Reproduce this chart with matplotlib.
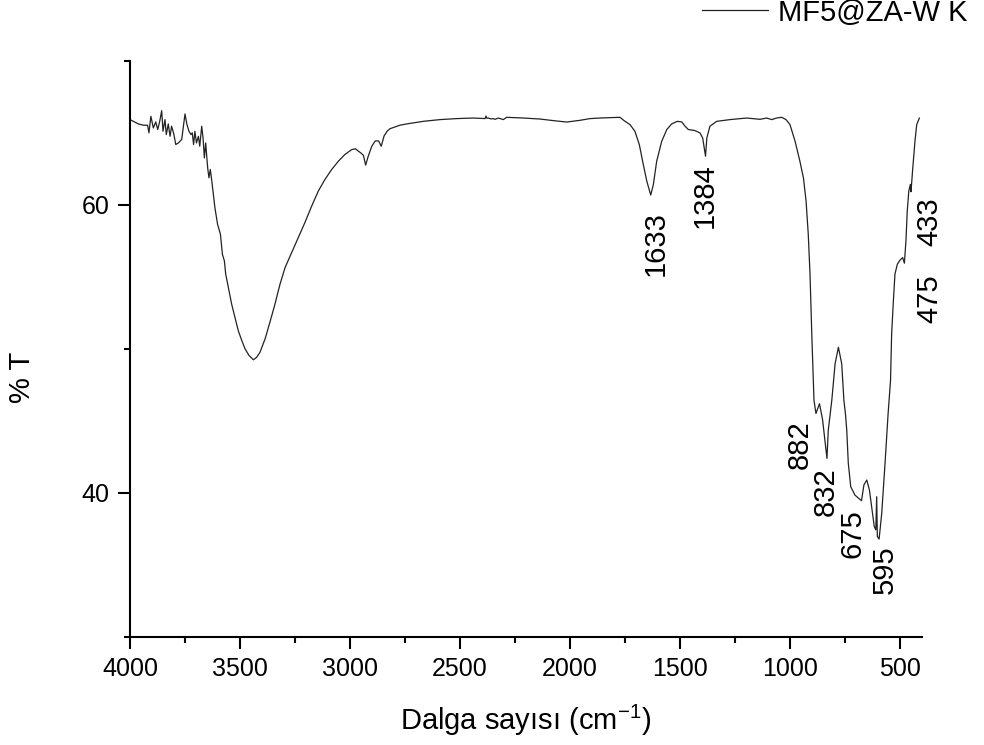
import matplotlib
matplotlib.use("Agg")
import matplotlib.pyplot as plt
from matplotlib.ticker import MultipleLocator, FixedLocator

plt.rcParams['font.family'] = ['Liberation Sans', 'DejaVu Sans']
plt.rcParams['mathtext.fontset'] = 'custom'
plt.rcParams['mathtext.rm'] = 'Liberation Sans'
plt.rcParams['mathtext.it'] = 'Liberation Sans:italic'
plt.rcParams['mathtext.bf'] = 'Liberation Sans:bold'

# ---- data ----
wavenumber = [
    4000, 3962, 3939, 3920, 3914, 3905, 3894, 3883, 3874, 3865, 3856, 3850, 3841, 3835,
    3826, 3818, 3811, 3801, 3792, 3780, 3765, 3756, 3750, 3741, 3732, 3723, 3717, 3711,
    3705, 3698, 3689, 3683, 3674, 3668, 3662, 3656, 3647, 3641, 3635, 3629, 3623, 3614,
    3602, 3589, 3580, 3571, 3565, 3553, 3538, 3523, 3508, 3492, 3477, 3459, 3439, 3424,
    3409, 3386, 3364, 3341, 3318, 3295, 3265, 3235, 3205, 3174, 3144, 3114, 3083, 3053,
    3023, 2992, 2975, 2962, 2951, 2939, 2929, 2917, 2901, 2885, 2870, 2858, 2845, 2830,
    2818, 2773, 2742, 2667, 2591, 2515, 2439, 2386, 2382, 2378, 2371, 2360, 2349, 2340,
    2326, 2303, 2288, 2212, 2136, 2076, 2015, 1955, 1909, 1864, 1773, 1750, 1727, 1705,
    1685, 1667, 1651, 1633, 1621, 1606, 1583, 1560, 1538, 1512, 1492, 1477, 1462, 1432,
    1409, 1397, 1384, 1378, 1364, 1333, 1273, 1197, 1136, 1106, 1083, 1061, 1038, 1018,
    1000, 977, 955, 939, 927, 917, 909, 901, 891, 882, 866, 852, 832, 826, 810, 795, 780,
    765, 755, 748, 742, 735, 724, 705, 688, 675, 664, 651, 639, 629, 617, 610, 606, 603,
    595, 583, 568, 554, 543, 538, 530, 523, 512, 500, 488, 480, 473, 467, 460, 453, 450,
    443, 432, 424, 412,
]
transmittance = [
    65.93, 65.63, 65.54, 65.54, 65.01, 66.16, 65.35, 65.77, 65.24, 65.81, 66.55, 65.12, 65.93, 64.89,
    65.63, 64.77, 65.47, 64.94, 64.20, 64.31, 64.55, 65.58, 66.32, 65.58, 65.12, 64.89, 65.01, 64.20,
    65.12, 64.31, 64.77, 64.08, 65.47, 64.66, 63.27, 64.31, 62.58, 61.89, 62.47, 61.77, 60.97, 59.81,
    58.66, 57.97, 56.58, 56.12, 55.20, 54.28, 53.12, 52.20, 51.28, 50.59, 50.01, 49.55, 49.25, 49.43,
    49.78, 50.70, 51.86, 53.12, 54.51, 55.66, 56.70, 57.74, 58.78, 59.93, 60.97, 61.77, 62.47, 63.04,
    63.51, 63.85, 63.90, 63.74, 63.62, 63.45, 62.77, 63.39, 64.08, 64.45, 64.45, 64.08, 64.80, 65.15,
    65.30, 65.54, 65.63, 65.81, 65.93, 66.00, 66.04, 66.00, 66.18, 66.02, 66.04, 65.98, 66.00, 65.95,
    66.04, 65.93, 66.09, 66.04, 65.97, 65.86, 65.76, 65.88, 66.00, 66.04, 66.09, 65.81, 65.58, 65.12,
    64.20, 62.82, 61.66, 60.69, 61.43, 63.04, 64.43, 65.24, 65.63, 65.81, 65.77, 65.47, 65.24, 65.17,
    65.00, 64.66, 63.39, 64.66, 65.47, 65.81, 65.93, 66.04, 65.95, 66.04, 65.93, 66.04, 66.09, 65.93,
    65.58, 64.43, 63.04, 61.89, 60.28, 57.97, 55.20, 51.05, 46.44, 45.52, 46.20, 45.10, 42.40, 44.36, 46.44, 48.98, 50.12,
    48.98, 46.44, 45.50, 44.36, 42.06, 40.44, 39.86, 39.63, 39.47, 40.56, 40.90, 40.21, 39.05, 37.67, 37.44, 39.74, 36.98,
    36.80, 38.60, 42.06, 45.52, 47.82, 51.05, 53.36, 55.20, 55.89, 56.17, 56.35, 55.96, 57.51, 59.58, 60.97, 61.43, 60.92,
    62.35, 64.43, 65.58, 66.04,
]

peak_labels = ["1633", "1384", "433", "475", "882", "832", "675", "595"]
label_x = [1609, 1386, 368, 368, 955, 836, 714, 568]
label_y = [57.30, 60.62, 58.82, 53.50, 43.39, 40.07, 37.16, 34.67]

series_name = "MF5@ZA-W K"

fig = plt.figure(figsize=(9.84, 7.45), dpi=100)
ax = fig.add_axes([130/984, 1-637/745, 792/984, 576/745])

ax.plot(wavenumber, transmittance, color='#222222', lw=0.9, label=series_name)

ax.set_xlim(4000, 400)
ax.set_ylim(30, 70)

for s in ['top', 'right']:
    ax.spines[s].set_visible(False)
for s in ['left', 'bottom']:
    ax.spines[s].set_linewidth(1.5)

ax.xaxis.set_major_locator(MultipleLocator(500))
ax.xaxis.set_minor_locator(MultipleLocator(250))
ax.yaxis.set_major_locator(FixedLocator([40, 60]))
ax.yaxis.set_minor_locator(FixedLocator([30, 50, 70]))
ax.tick_params(which='major', direction='out', length=8.5, width=1.5, labelsize=18, pad=6)
ax.tick_params(which='minor', direction='out', length=4.5, width=1.5)

for t, xx, yy in zip(peak_labels, label_x, label_y):
    ax.text(xx, yy, t, rotation=90, ha='center', va='center', fontsize=21, clip_on=False)

ax.set_xlabel('Dalga sayısı (cm$^{-1}$)', fontsize=21)
ax.xaxis.set_label_coords(0.5, -0.1615)
ax.xaxis.label.set_va('baseline')
ax.set_ylabel('% T', fontsize=21)
ax.yaxis.set_label_coords(-0.136, 0.45)
ax.yaxis.label.set_va('center')

fig.legend(loc='center right', bbox_to_anchor=(0.995, 0.983), frameon=False,
           fontsize=21, handlelength=2.25, handletextpad=0.35, borderaxespad=0)

fig.savefig('out.png', dpi=100)
